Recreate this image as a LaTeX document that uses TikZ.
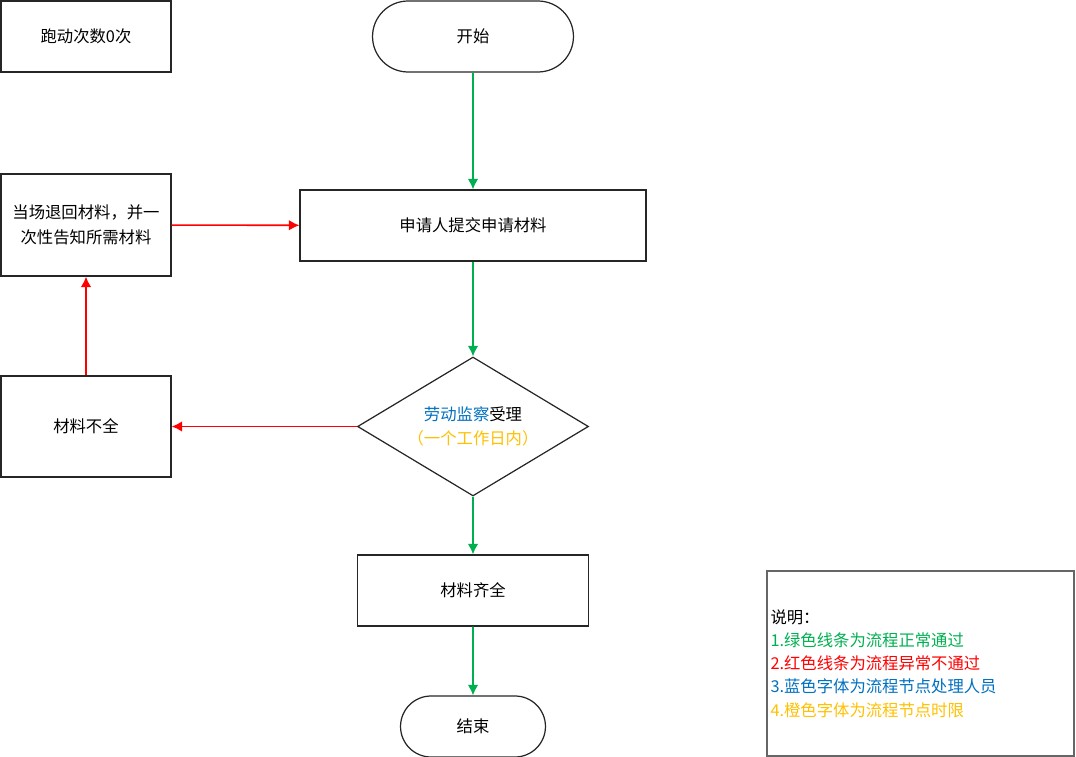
\documentclass[tikz,border=0pt]{standalone}
\usepackage{fontspec}
\setmainfont{Noto Sans CJK SC}
\usepackage{tikz}
\usetikzlibrary{shapes}
\usetikzlibrary{arrows.meta}
\definecolor{okgreen}{HTML}{00B050}
\definecolor{badred}{HTML}{FF0000}
\definecolor{staffblue}{HTML}{0070C0}
\definecolor{timeorange}{HTML}{FFC000}
\tikzset{
  box node/.style={rectangle,draw=black!85,line width=0.7pt,font=\fontsize{9.3}{14}\selectfont,align=center,inner sep=2pt},
  term node/.style={rounded rectangle,draw=black!85,line width=0.7pt,font=\fontsize{9.3}{14}\selectfont,inner sep=2pt},
  check node/.style={diamond,aspect=1.66,draw=black!85,line width=0.7pt,font=\fontsize{9.3}{14}\selectfont,align=center,inner sep=0pt},
  good/.style={-{Latex[length=6pt,width=6pt]},okgreen,line width=0.9pt},
  bad/.style={-{Latex[length=6pt,width=6pt]},badred,line width=0.9pt}
}

\begin{document}
\begin{tikzpicture}[x=0.02cm,y=-0.02cm]
        \useasboundingbox (0,0) rectangle (1076,757);
        \node [box node,minimum width=3.4cm,minimum height=1.42cm] (count) at (86,36.5) {跑动次数0次};
        \node [term node,minimum width=4.16cm,minimum height=1.42cm] (start) at (473,36.5) {开始};
        \node [box node,minimum width=6.92cm,minimum height=1.42cm] (apply) at (473,225.5) {申请人提交申请材料};
        \node [box node,minimum width=3.4cm,minimum height=2.04cm] (back) at (86,225) {当场退回材料，并一\\次性告知所需材料};
        \node [check node,minimum width=4.62cm,minimum height=2.78cm] (accept) at (473,426.5)
              {\textcolor{staffblue}{劳动监察}受理\\\textcolor{timeorange}{（一个工作日内）}};
        \node [box node,minimum width=3.4cm,minimum height=2.02cm] (lack) at (86,426.5) {材料不全};
        \node [box node,minimum width=4.62cm,minimum height=1.42cm] (full) at (473,590.5) {材料齐全};
        \node [term node,minimum width=3.04cm,minimum height=1.22cm] (stop) at (473,726.5) {结束};
        \node [box node,draw=black!60,minimum width=6.14cm,minimum height=3.7cm,text width=6.0cm,align=left,
              font=\fontsize{9.3}{13.2}\selectfont] (note) at (920.5,663.5)
              {说明：\\
               \textcolor{okgreen}{1.绿色线条为流程正常通过}\\
               \textcolor{badred}{2.红色线条为流程异常不通过}\\
               \textcolor{staffblue}{3.蓝色字体为流程节点处理人员}\\
               \textcolor{timeorange}{4.橙色字体为流程节点时限}};
        % normal flow
        \draw [good] (start) -- (apply);
        \draw [good] (apply) -- (accept);
        \draw [good] (accept) -- (full);
        \draw [good] (full) -- (stop);
        % rejected flow
        \draw [bad] (accept) -- (lack);
        \draw [bad] (lack) -- (back);
        \draw [bad] (back) -- (apply);
      \end{tikzpicture}
\end{document}
